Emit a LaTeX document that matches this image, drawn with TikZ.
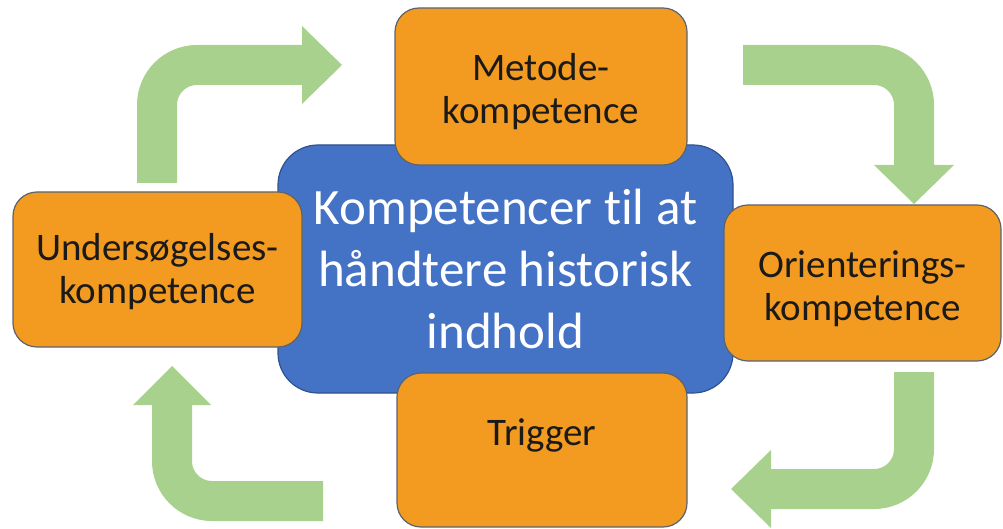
\documentclass[tikz,border=0pt]{standalone}
\usepackage{fontspec}
\setmainfont[Ligatures={NoCommon}]{Carlito}
\definecolor{orfill}{HTML}{F39A20}
\definecolor{ordraw}{HTML}{5A6470}
\definecolor{blfill}{HTML}{4472C4}
\definecolor{bldraw}{HTML}{2F528F}
\definecolor{grarrow}{HTML}{A9D18E}
\definecolor{otext}{HTML}{1A1A1A}
\begin{document}
\begin{tikzpicture}[x=1pt,y=-1pt,
  obox/.style={draw=ordraw, line width=1.2pt, fill=orfill, rounded corners=24pt,
    inner sep=0pt, align=center, text=otext, font=\fontsize{39}{43}\selectfont},
  bbox/.style={draw=bldraw, line width=1.2pt, fill=blfill, rounded corners=40pt,
    inner sep=0pt, align=center, text=white, font=\fontsize{51}{62}\selectfont},
  shaft/.style={draw=grarrow, line width=40pt, rounded corners=40pt},
  head/.style={fill=grarrow}]
\useasboundingbox (0,0) rectangle (1003,529);

% green bent arrows
\draw[shaft] (157,183) |- (303,65);
\fill[head] (302,26) -- (342,65) -- (302,104) -- cycle;

\draw[shaft] (743,65) -| (914,166);
\fill[head] (874,165) -- (954,165) -- (914,204) -- cycle;

\draw[shaft] (914,372) |- (770,489);
\fill[head] (771,450) -- (771,528) -- (731,489) -- cycle;

\draw[shaft] (323,501) -| (172,404);
\fill[head] (133,405) -- (211,405) -- (172,366) -- cycle;

% central box
\node[bbox, minimum width=455pt, minimum height=248pt] (cen) at (505.5,269)
  {Kompetencer til at\\håndtere historisk\\indhold};

% orange boxes
\node[obox, minimum width=292pt, minimum height=157pt] (met) at (541,86.5)
  {\rule{0pt}{37pt}Metode-\\kompetence};
\node[obox, minimum width=289pt, minimum height=155pt] (und) at (157.5,269.5)
  {\rule{0pt}{32pt}Undersøgelses-\\kompetence};
\node[obox, minimum width=277pt, minimum height=156pt] (ori) at (862.5,283)
  {\rule{0pt}{38pt}Orienterings-\\kompetence};
\node[obox, minimum width=290pt, minimum height=154pt, text height=25pt, text depth=35pt] (trig) at (542,450)
  {Trigger};
\end{tikzpicture}
\end{document}
